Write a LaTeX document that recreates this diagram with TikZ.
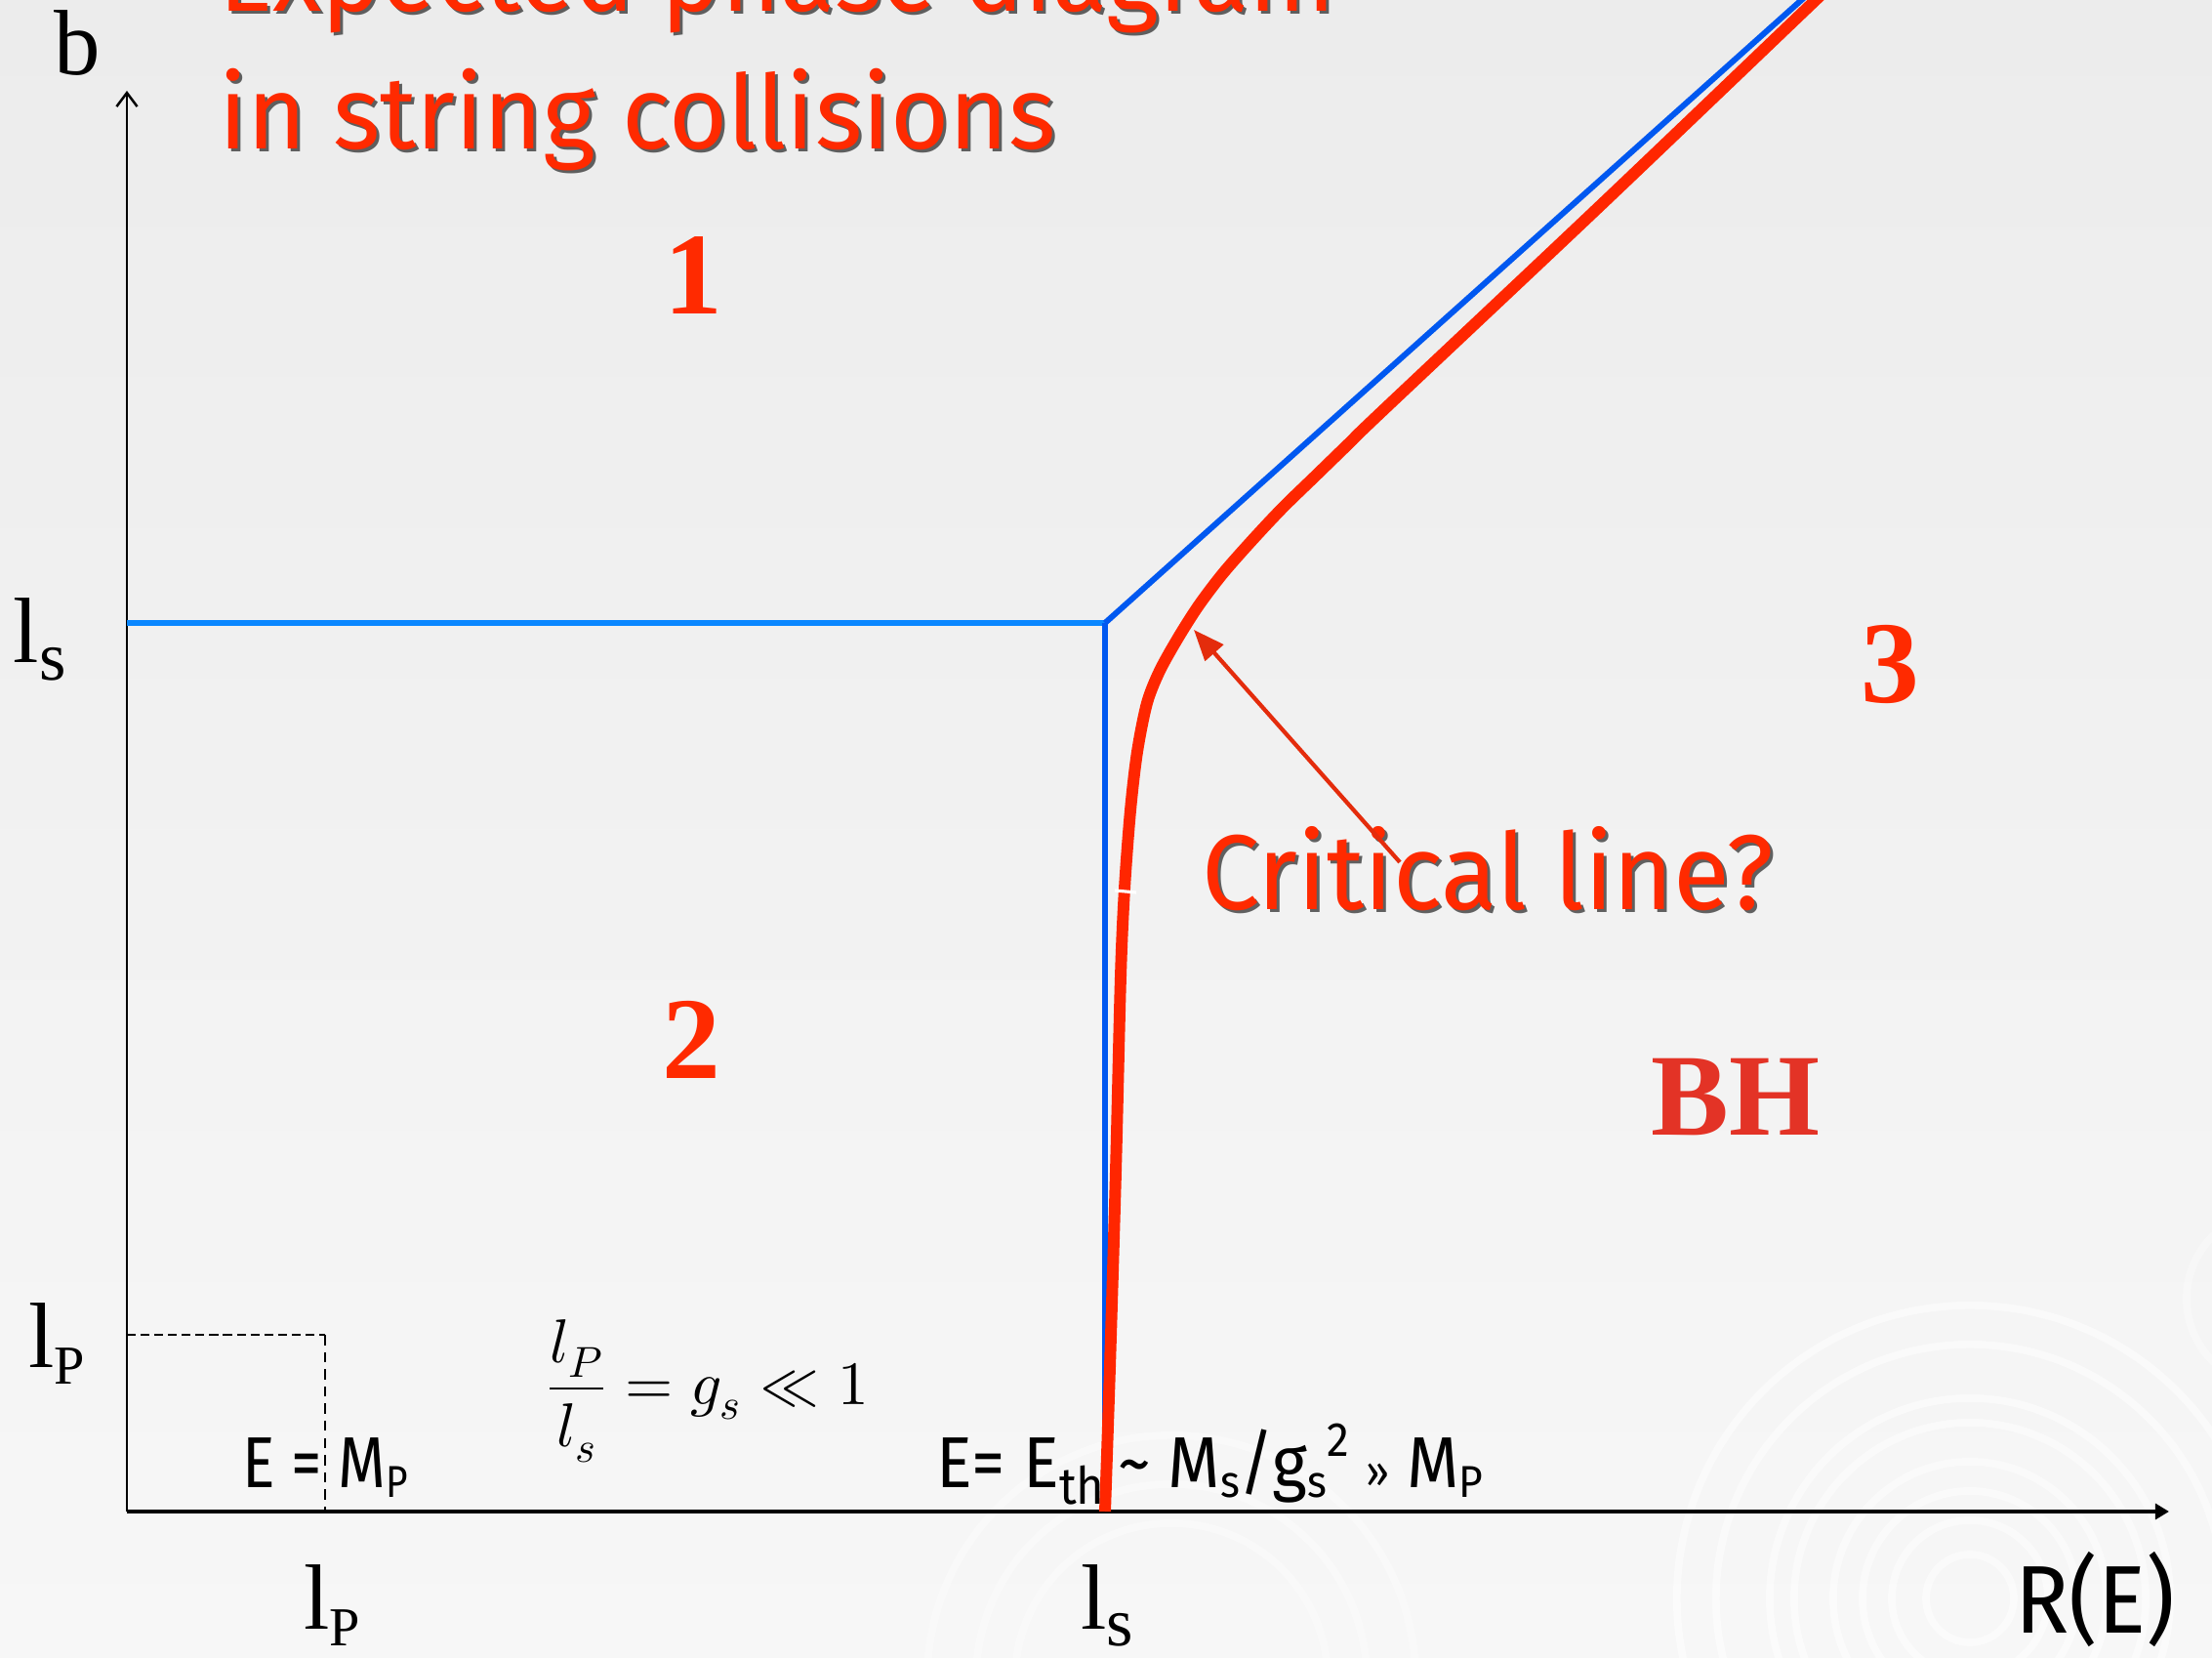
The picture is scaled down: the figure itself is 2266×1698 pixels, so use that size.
\documentclass[tikz,border=0pt]{standalone}
\usepackage{fontspec}
\usepackage{unicode-math}
\setmainfont{Liberation Serif}
\newfontfamily\comicfont[FakeStretch=0.98]{Fira Sans}
\newfontfamily\critfont[FakeStretch=0.97]{Fira Sans}
\newfontfamily\condfont[FakeStretch=0.85]{Fira Sans}
\newfontfamily\condwide[FakeStretch=0.93]{Fira Sans}
\usetikzlibrary{arrows.meta}
\definecolor{bgtop}{RGB}{236,236,236}
\definecolor{bgbot}{RGB}{247,247,247}
\definecolor{titlered}{RGB}{255,42,0}
\definecolor{numred}{RGB}{255,42,0}
\definecolor{bhred}{RGB}{227,51,38}
\definecolor{curvered}{RGB}{255,38,0}
\definecolor{arrowred}{RGB}{228,44,12}
\definecolor{bluelight}{RGB}{10,135,255}
\definecolor{bluedark}{RGB}{0,88,240}
\newcommand{\lsubP}{l\raisebox{-5pt}{\fontsize{16}{16}\selectfont P}}
\newcommand{\lsubs}{l\raisebox{-5pt}{\fontsize{20}{20}\selectfont s}}
\newcommand{\smallsub}[1]{\raisebox{-3pt}{\fontsize{13}{13}\selectfont #1}}
\tikzset{
  every node/.style={inner sep=0pt, outer sep=0pt},
  titletxt/.style={font=\comicfont\fontsize{30}{36}\selectfont, text=titlered, anchor=base west},
  titleshadow/.style={font=\comicfont\fontsize{30}{36}\selectfont, text=black, opacity=0.6, anchor=base west},
  crittxt/.style={font=\critfont\fontsize{31}{36}\selectfont, text=titlered, anchor=base west},
  critshadow/.style={font=\critfont\fontsize{31}{36}\selectfont, text=black, opacity=0.6, anchor=base west},
  seriflabel/.style={font=\fontsize{27}{30}\selectfont, text=black, anchor=base west},
  regionnum/.style={font=\bfseries\fontsize{34}{36}\selectfont, text=numred, anchor=base},
  bhlabel/.style={font=\bfseries\fontsize{34}{36}\selectfont, text=bhred, anchor=base},
  condlabel/.style={font=\condfont\fontsize{21}{24}\selectfont, text=black, anchor=base west},
  axisline/.style={black, line width=0.7pt},
  bluelineL/.style={bluelight, line width=1.7pt},
  bluelineD/.style={bluedark, line width=1.7pt},
  swirl/.style={white, opacity=0.5, line width=2.2pt},
}
\begin{document}
\begin{tikzpicture}[x=0.01cm, y=-0.01cm]
\useasboundingbox (0,0) rectangle (2266,1698);
\shade[top color=bgtop, bottom color=bgbot] (0,0) rectangle (2266,1698);

% faint background swirls
\coordinate (S1) at (2018,1637);
\coordinate (S2) at (1200,1720);
\coordinate (S3) at (2330,1330);
\foreach \r in {0.45,0.8,1.1,1.4,1.8,2.05,2.6,3.0}
  \draw[swirl] (S1) circle[radius=\r cm];
\foreach \r in {1.6,2.0,2.5}
  \draw[swirl, opacity=0.35] (S2) circle[radius=\r cm];
\draw[swirl, opacity=0.35] (S3) circle[radius=0.9cm];

% coordinates
\coordinate (O) at (130,1548);
\coordinate (ytip) at (130,93);
\coordinate (xtip) at (2222,1548);
\coordinate (C) at (1132,638);
\coordinate (Cb) at (1132,1548);
\coordinate (Cl) at (130,638);
\coordinate (Dtop) at (1879,-30);
\coordinate (lp) at (333,1367);
\coordinate (lpy) at (130,1367);
\coordinate (lpx) at (333,1548);

% axes
\draw[axisline, -{Straight Barb[length=4pt,width=6pt]}] (O) -- (ytip);
\draw[black, line width=1.1pt, -{Triangle[length=4pt,width=4.5pt]}] (O) -- (xtip);

% dashed Planck box
\draw[black, line width=0.8pt, dash pattern=on 2.6pt off 1.4pt] (lpy) -- (lp);
\draw[black, line width=0.5pt, dash pattern=on 3pt off 2pt] (lp) -- (lpx);

% blue boundaries
\draw[bluelineL] (Cl) -- (C);
\draw[bluelineD] (C) -- (Cb);
\draw[bluelineD] (C) -- (Dtop);

% red critical curve
\draw[curvered, line width=3.4pt] plot[smooth, tension=0.5] coordinates {
 (1132,1548) (1137,1400) (1143,1200) (1148,1000) (1152,910) (1158,830)
 (1165,770) (1175,720) (1188,687) (1207,653) (1228,620) (1253,587)
 (1283,553) (1314,520) (1348,487) (1383,453) (1415,422) (1640,210)
 (1860,0) (1892,-30)};
\draw[white, line width=0.9pt] (1142,912) -- (1164,914);

% titles
\node[titleshadow] (t1s) at (227,15) {Expected phase diagram};
\node[titletxt] (t1) at (224,12) {Expected phase diagram};
\node[titleshadow] (t2s) at (227,156) {in string collisions};
\node[titletxt] (t2) at (224,153) {in string collisions};

% axis labels
\node[seriflabel, anchor=base] (b) at (79,77) {b};
\node[seriflabel] (lsL) at (14,679) {\lsubs};
\node[seriflabel] (lpL) at (29,1400) {\lsubP};
\node[seriflabel] (lpB) at (311,1668) {\lsubP};
\node[seriflabel] (lsB) at (1107,1668) {\lsubs};
\node[condlabel, font=\condwide\fontsize{28}{30}\selectfont] (RE) at (2064,1672) {R(E)};

% region labels
\node[regionnum] (r1) at (710,322) {1};
\node[regionnum] (r2) at (708,1105) {2};
\node[regionnum] (r3) at (1936,720) {3};
\node[bhlabel] (bh) at (1778,1163) {BH};

% critical line annotation
\node[critshadow] (crits) at (1234,935) {Critical line?};
\node[crittxt] (crit) at (1231,932) {Critical line?};
\coordinate (crittip) at (1223,645);
\coordinate (crittail) at (1434,883);
\draw[arrowred, line width=1.2pt, -{Triangle[length=9pt,width=7pt]}] (crittail) -- (crittip);

% formulas
\node[anchor=base west, font=\fontsize{18}{22}\selectfont] (ratio) at (559,1438)
  {$\displaystyle\frac{l_P}{l_s}=g_s\ll 1$};
\node[condlabel] (emp) at (248,1523) {E = M\smallsub{P}};
\node[condlabel, font=\condwide\fontsize{21}{24}\selectfont] (eth) at (959,1523)
  {E= E\raisebox{-5pt}{\fontsize{15}{15}\selectfont th}\hspace{4pt}\textasciitilde\hspace{5pt}M\smallsub{s}/g\smallsub{s}\raisebox{9pt}{\fontsize{14}{14}\selectfont 2}\hspace{5pt}{\fontsize{13}{13}\selectfont »}\hspace{5pt}M\smallsub{P}};
\end{tikzpicture}
\end{document}
